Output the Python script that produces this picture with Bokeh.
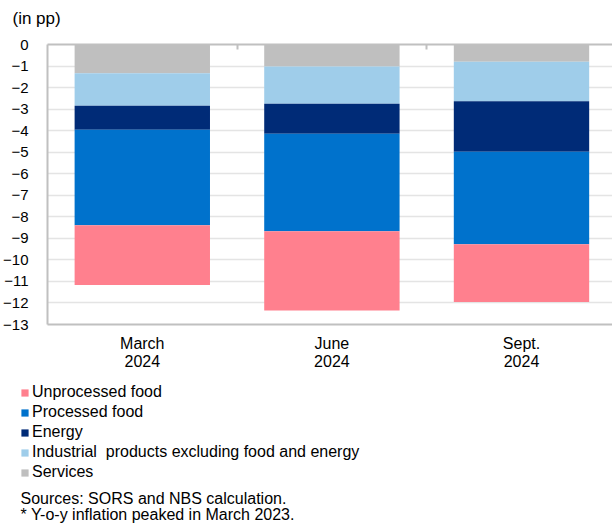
from bokeh.plotting import figure
from bokeh.layouts import column
from bokeh.models import (Range1d, FixedTicker, LinearAxis, Legend, LegendItem,
                          Label, ColumnDataSource)
from bokeh.embed import file_html
from bokeh.resources import INLINE

# ---- data ----
periods = ["March\n2024", "June\n2024", "Sept.\n2024"]
services = [-1.34, -1.02, -0.80]
industrial = [-1.50, -1.73, -1.84]
energy = [-1.12, -1.39, -2.34]
processed = [-4.43, -4.53, -4.29]
unprocessed = [-2.78, -3.68, -2.69]
y_ticks = [0, -1, -2, -3, -4, -5, -6, -7, -8, -9, -10, -11, -12, -13]

stack_keys = ["services", "industrial", "energy", "processed", "unprocessed"]
stack_names = ["Services", "Industrial  products excluding food and energy",
               "Energy", "Processed food", "Unprocessed food"]
stack_colors = ["#bfbfbf", "#9fcdea", "#002b77", "#0072cc", "#ff808e"]

unit_text = "(in pp)"
notes = ["Sources: SORS and NBS calculation.",
         "* Y-o-y inflation peaked in March 2023."]

FONT = "Liberation Sans"
GRAY = "#c0c0c0"
W = 612


def strip(h):
    f = figure(width=W, height=h, output_backend="svg", toolbar_location=None,
               x_range=Range1d(0, W), y_range=Range1d(h, 0),
               x_axis_type=None, y_axis_type=None,
               min_border_left=0, min_border_right=0, min_border_top=0,
               min_border_bottom=0, frame_align=False)
    f.outline_line_color = None
    f.xgrid.visible = False
    f.ygrid.visible = False
    return f


# ---- top strip: unit text ----
p0 = strip(30)
p0.add_layout(Label(x=12, y=18, text=unit_text, text_font=FONT,
                    text_font_size="17px", text_baseline="middle",
                    text_color="black"))

# ---- main chart ----
xs = list(range(len(periods)))
source = ColumnDataSource(dict(x=xs, services=services, industrial=industrial,
                               energy=energy, processed=processed,
                               unprocessed=unprocessed))

p = figure(width=W, height=345, output_backend="svg", toolbar_location=None,
           x_range=Range1d(-0.5, 2.48), y_range=Range1d(-13, 0),
           min_border_left=46, min_border_right=0, min_border_top=14,
           min_border_bottom=51, frame_align=False)
p.outline_line_color = None

renderers = p.vbar_stack(stack_keys, x="x", width=0.714, source=source,
                         fill_color=stack_colors, line_color=None)

p.xgrid.visible = False
p.ygrid.ticker = FixedTicker(ticks=y_ticks)
p.ygrid.grid_line_color = "#e4e4e4"
p.ygrid.grid_line_width = 1.5

p.yaxis.ticker = FixedTicker(ticks=y_ticks)
p.yaxis.axis_line_color = GRAY
p.yaxis.axis_line_width = 2
p.yaxis.major_tick_line_color = None
p.yaxis.minor_tick_line_color = None
p.yaxis.major_label_text_font = FONT
p.yaxis.major_label_text_font_size = "15px"
p.yaxis.major_label_text_color = "black"
p.yaxis.major_label_standoff = 13

p.xaxis.ticker = FixedTicker(ticks=xs)
p.xaxis.major_label_overrides = {i: lab for i, lab in zip(xs, periods)}
p.xaxis.axis_line_color = GRAY
p.xaxis.axis_line_width = 2
p.xaxis.major_tick_line_color = None
p.xaxis.minor_tick_line_color = None
p.xaxis.major_label_text_font = FONT
p.xaxis.major_label_text_font_size = "16px"
p.xaxis.major_label_text_color = "black"
p.xaxis.major_label_text_line_height = 1.08
p.xaxis.major_label_standoff = 4

top = LinearAxis(ticker=FixedTicker(ticks=[0.5, 1.5]))
top.axis_line_color = GRAY
top.axis_line_width = 2
top.major_tick_in = 5
top.major_tick_out = 0
top.major_tick_line_color = GRAY
top.major_tick_line_width = 2
top.minor_tick_line_color = None
top.major_label_text_color = None
top.major_label_text_font_size = "1px"
top.major_label_standoff = 0
p.add_layout(top, "above")

# ---- bottom strip: legend + notes ----
p2 = strip(148)
nan = float("nan")
proxy = ColumnDataSource(dict(left=[nan], right=[nan], top=[nan], bottom=[nan]))
swatches = [p2.quad(left="left", right="right", top="top", bottom="bottom",
                    source=proxy, fill_color=c, line_color=None)
            for c in stack_colors]
order = [4, 3, 2, 1, 0]
items = [LegendItem(label=stack_names[i], renderers=[swatches[i]]) for i in order]
legend = Legend(items=items, location=(20, 41), orientation="vertical",
                glyph_width=9, glyph_height=9, label_standoff=3,
                label_text_font=FONT, label_text_font_size="16px",
                label_text_color="black", label_height=20, spacing=0,
                padding=0, margin=0, border_line_color=None,
                background_fill_alpha=0)
p2.add_layout(legend)
for txt, yy in zip(notes, [123, 139]):
    p2.add_layout(Label(x=20, y=yy, text=txt, text_font=FONT,
                        text_font_size="16px", text_baseline="middle",
                        text_color="black"))

layout = column(p0, p, p2, spacing=0)
open("out.html", "w").write(file_html(layout, INLINE))
